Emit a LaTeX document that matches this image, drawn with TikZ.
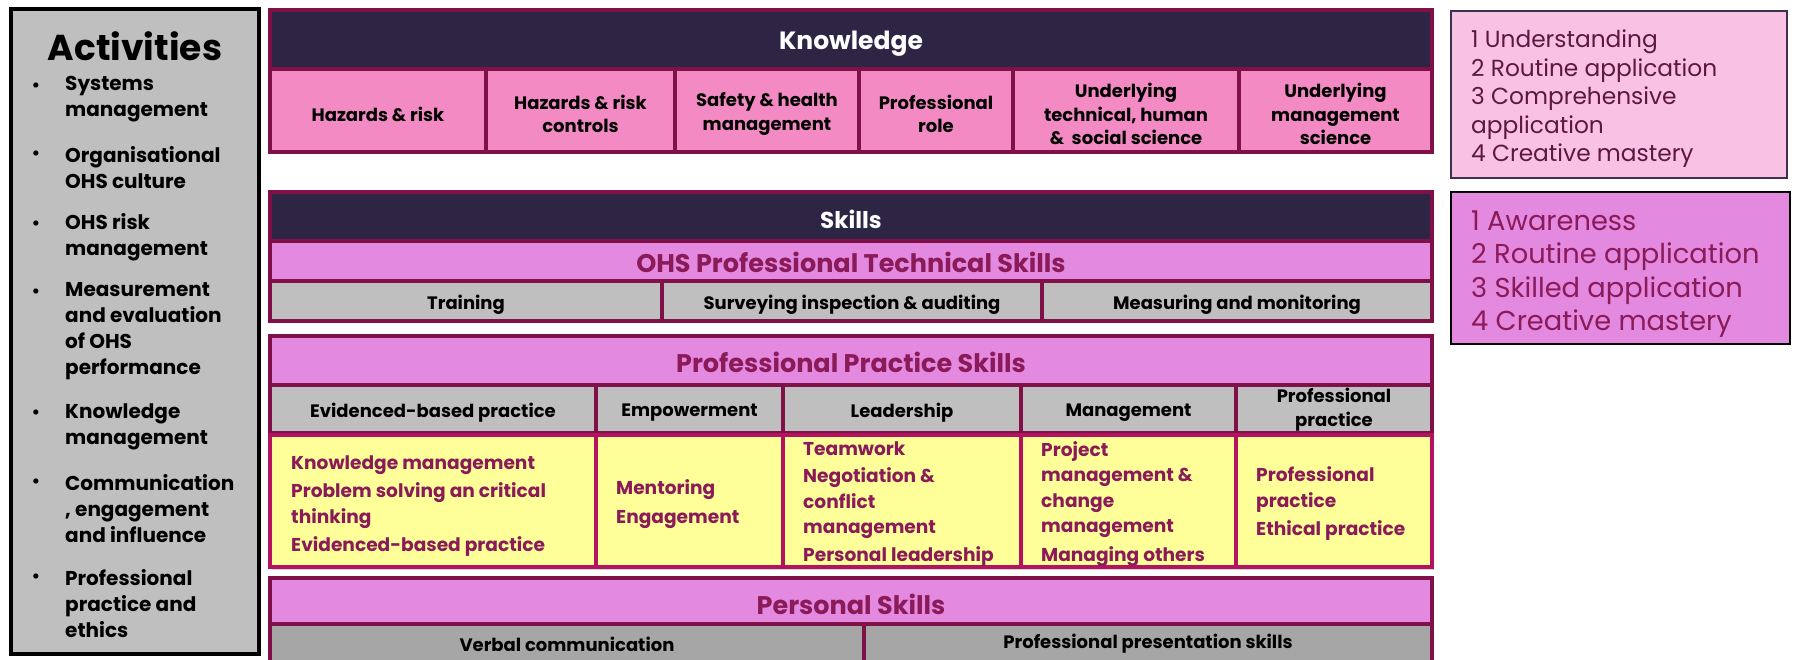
\documentclass[tikz,border=0pt]{standalone}
\usepackage{fontspec}
\setmainfont{Poppins}
\usetikzlibrary{fit,shadows}
\definecolor{hdr}{HTML}{2E2545}
\definecolor{brd}{HTML}{7F1148}
\definecolor{kpink}{HTML}{F48AC3}
\definecolor{orch}{HTML}{E389E0}
\definecolor{gry}{HTML}{BFBFBF}
\definecolor{dgry}{HTML}{A6A6A6}
\definecolor{yel}{HTML}{FFFF99}
\definecolor{ybrd}{HTML}{B3135F}
\definecolor{mag}{HTML}{8A1A58}
\definecolor{lpink}{HTML}{F9C1E2}
\definecolor{lbrd}{HTML}{3B3150}
\definecolor{ltxt}{HTML}{5E1840}
\begin{document}
\begin{tikzpicture}[x=1pt,y=-1pt,
  cell/.style={draw=brd, line width=3.5pt, inner sep=0pt},
  hdrbox/.style={cell, fill=hdr},
  kcell/.style={cell, fill=kpink},
  band/.style={cell, fill=orch},
  gcell/.style={cell, fill=gry},
  pgcell/.style={cell, fill=dgry},
  ctext/.style={inner sep=0pt, align=center, yshift=-3.5pt, font=\bfseries\fontsize{18}{23.5}\selectfont},
  htext/.style={inner sep=0pt, text=white, yshift=-4pt, font=\bfseries\fontsize{25}{30}\selectfont},
  btext/.style={inner sep=0pt, text=mag, yshift=-1.5pt, font=\bfseries\fontsize{25.5}{30}\selectfont},
  ycell/.style={draw=ybrd, line width=4.5pt, fill=yel, inner sep=0pt, drop shadow={opacity=0.35, shadow xshift=2pt, shadow yshift=-3pt}},
  ytext/.style={anchor=west, align=left, text=mag, inner sep=0pt, yshift=-3pt, font=\bfseries\fontsize{18.6}{25.5}\selectfont},
  acttext/.style={anchor=west, align=left, inner sep=0pt, yshift=-3.5pt, font=\bfseries\fontsize{20}{26}\selectfont},
  bul/.style={inner sep=0pt, font=\fontsize{21}{22}\selectfont},
  legtext/.style={anchor=west, align=left, inner sep=0pt, yshift=-3.5pt}]
\useasboundingbox (0,0) rectangle (1796,659);
\clip (0,0) rectangle (1796,659);
% Activities
\node[fit={(11,9) (259,654)}, draw=black, line width=3.5pt, fill=gry, inner sep=0pt] (act) {};
\node[font=\bfseries\fontsize{36}{40}\selectfont, inner sep=0pt] (acttitle) at (135,46) {Activities};
\node[bul] (b1) at (36,88) {•};
\node[bul] (b2) at (36,156) {•};
\node[bul] (b3) at (36,226) {•};
\node[bul] (b4) at (36,294) {•};
\node[bul] (b5) at (36,415) {•};
\node[bul] (b6) at (36,484) {•};
\node[bul] (b7) at (36,579) {•};
\node[acttext] (a1) at (65,95.5) {Systems\\management};
\node[acttext] (a2) at (65,164) {Organisational\\OHS culture};
\node[acttext] (a3) at (65,233.5) {OHS risk\\management};
\node[acttext] (a4) at (65,327.5) {Measurement\\and evaluation\\of OHS\\performance};
\node[acttext] (a5) at (65,423) {Knowledge\\management};
\node[acttext] (a6) at (65,505) {Communication\\, engagement\\and influence};
\node[acttext] (a7) at (65,600) {Professional\\practice and\\ethics};
% Knowledge
\node[hdrbox, fit={(270,10) (1432,69)}] (khdr) {};
\node[kcell, fit={(270,69) (486,152)}] (k1) {};
\node[kcell, fit={(486,69) (675,152)}] (k2) {};
\node[kcell, fit={(675,69) (859,152)}] (k3) {};
\node[kcell, fit={(859,69) (1013,152)}] (k4) {};
\node[kcell, fit={(1013,69) (1239,152)}] (k5) {};
\node[kcell, fit={(1239,69) (1432,152)}] (k6) {};
\node[htext] (khdrt) at (khdr.center) {Knowledge};
\node[ctext] (k1t) at (k1.center) {Hazards \& risk};
\node[ctext] (k2t) at (k2.center) {Hazards \& risk\\controls};
\node[ctext] (k3t) at (k3.center) {Safety \& health\\management};
\node[ctext] (k4t) at (k4.center) {Professional\\role};
\node[ctext] (k5t) at (k5.center) {Underlying\\technical, human\\\&\ \ social science};
\node[ctext] (k6t) at (k6.center) {Underlying\\management\\science};
% Skills
\node[hdrbox, fit={(270,192) (1432,241)}] (shdr) {};
\node[band, fit={(270,241) (1432,281)}] (tech) {};
\node[gcell, fit={(270,281) (662,321)}] (t1) {};
\node[gcell, fit={(662,281) (1042,321)}] (t2) {};
\node[gcell, fit={(1042,281) (1432,321)}] (t3) {};
\node[htext, font=\bfseries\fontsize{23}{28}\selectfont, yshift=1pt] (shdrt) at (shdr.center) {Skills};
\node[btext] (techt) at (tech.center) {OHS Professional Technical Skills};
\node[ctext] (t1t) at (t1.center) {Training};
\node[ctext] (t2t) at (t2.center) {Surveying inspection \& auditing};
\node[ctext] (t3t) at (t3.center) {Measuring and monitoring};
% Professional practice
\node[band, fit={(270,336) (1432,385)}] (pps) {};
\node[gcell, fit={(270,385) (596,433)}] (p1) {};
\node[gcell, fit={(596,385) (783,433)}] (p2) {};
\node[gcell, fit={(783,385) (1021,433)}] (p3) {};
\node[gcell, fit={(1021,385) (1236,433)}] (p4) {};
\node[gcell, fit={(1236,385) (1432,433)}] (p5) {};
\node[btext] (ppst) at (pps.center) {Professional Practice Skills};
\node[ctext] (p1t) at (p1.center) {Evidenced-based practice};
\node[ctext] (p2t) at (p2.center) {Empowerment};
\node[ctext] (p3t) at (p3.center) {Leadership};
\node[ctext] (p4t) at (p4.center) {Management};
\node[ctext, yshift=3pt] (p5t) at (p5.center) {Professional\\practice};
\node[ycell, fit={(270,435) (596,567)}] (y1) {};
\node[ycell, fit={(596,435) (783,567)}] (y2) {};
\node[ycell, fit={(783,435) (1021,567)}] (y3) {};
\node[ycell, fit={(1021,435) (1236,567)}] (y4) {};
\node[ycell, fit={(1236,435) (1432,567)}] (y5) {};
\node[ytext] (yt1) at (291,503) {Knowledge management\\[3pt]Problem solving an critical\\thinking\\[3pt]Evidenced-based practice};
\node[ytext] (yt2) at (616,501) {Mentoring\\[3pt]Engagement};
\node[ytext] (yt3) at (803,501) {Teamwork\\[2pt]Negotiation \&\\conflict\\management\\[2pt]Personal leadership};
\node[ytext] (yt4) at (1041,501) {Project\\management \&\\change\\management\\[3pt]Managing others};
\node[ytext] (yt5) at (1256,501) {Professional\\practice\\[3pt]Ethical practice};
% Personal
\node[band, fit={(270,578) (1432,624)}] (pers) {};
\node[pgcell, fit={(270,624) (864,672)}] (v1) {};
\node[pgcell, fit={(864,624) (1432,672)}] (v2) {};
\node[btext, yshift=-2pt] (perst) at (pers.center) {Personal Skills};
\node[ctext, yshift=3.5pt] (v1t) at (567,644) {Verbal communication};
\node[ctext, yshift=3.5pt] (v2t) at (1148,644) {Professional presentation skills};
% Legends
\node[fit={(1451,11) (1787,178)}, draw=lbrd, line width=2pt, fill=lpink, inner sep=0pt] (leg1) {};
\node[legtext, text=ltxt, font=\fontsize{23.3}{28.5}\selectfont] (leg1t) at (1471,95.5) {1 Understanding\\2 Routine application\\3 Comprehensive\\application\\4 Creative mastery};
\node[fit={(1451,192) (1790,344)}, draw=black, line width=2pt, fill=orch, inner sep=0pt] (leg2) {};
\node[legtext, text=mag, font=\fontsize{27.3}{33.5}\selectfont] (leg2t) at (1471,270.5) {1 Awareness\\2 Routine application\\3 Skilled application\\4 Creative mastery};
\end{tikzpicture}
\end{document}
